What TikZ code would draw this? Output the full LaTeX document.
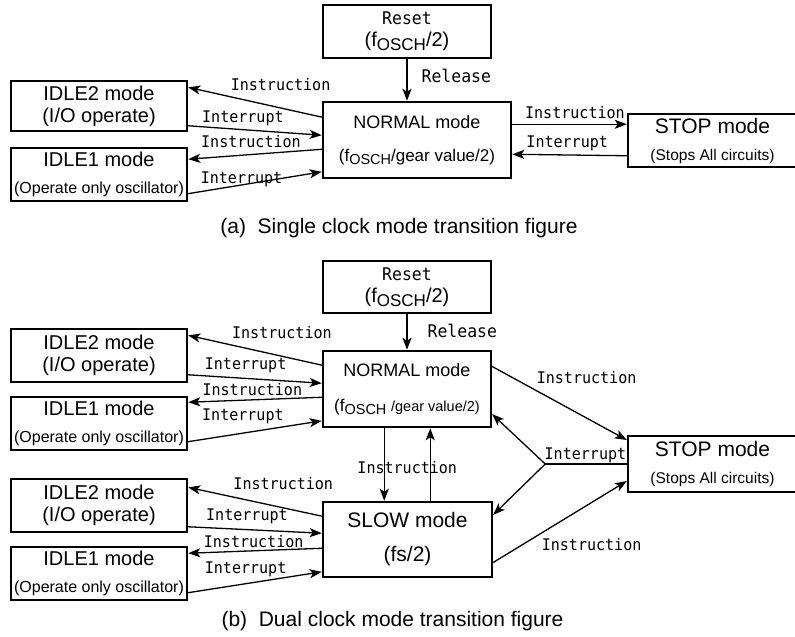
\documentclass[tikz,border=0pt]{standalone}
\usepackage{fontspec}
\setmainfont{Liberation Sans}
\newfontfamily\lblfont[FakeStretch=0.94]{DejaVu Sans Mono}
\usetikzlibrary{arrows.meta,positioning,calc}
\newcommand{\fosch}{f\raisebox{-0.35ex}{\scalebox{0.85}{OSCH}}}
\tikzset{%
modebox/.style={draw, line width=1.5pt, minimum width=176pt, minimum height=53pt, align=center, inner sep=0pt, font=\fontsize{20}{22}\selectfont},
lbl/.style={font=\lblfont\fontsize{16}{16}\selectfont, inner sep=0pt},
pt/.style={line width=1.3pt, -{Stealth[length=12pt,width=9pt,inset=3pt]}, shorten >=0.5pt}
}

\begin{document}
\begin{tikzpicture}[x=1pt, y=-1pt]
\useasboundingbox (0,0) rectangle (795,637);
% (a) single clock
\node[modebox, minimum width=168pt] (resetA) at (407,31.5) {{\lblfont\fontsize{17.5}{17.5}\selectfont Reset}\\(\fosch/2)};
\node[modebox, minimum width=188pt, minimum height=76pt, font=\fontsize{18}{33}\selectfont] (normalA) at (417,140) {NORMAL mode\\{\fontsize{17}{17}\selectfont(\fosch/gear value/2)}};
\node[modebox, minimum width=169pt, font=\fontsize{21}{27}\selectfont] (stopA) at (712.5,140.5) {STOP mode\\{\fontsize{15.5}{15.5}\selectfont(Stops All circuits)}};
\node[modebox, minimum height=50pt] (idle2A) at (99,106) {IDLE2 mode\\(I/O operate)};
\node[modebox, font=\fontsize{20}{27}\selectfont] (idle1A) at (99,174.5) {IDLE1 mode\\{\fontsize{16}{16}\selectfont(Operate only oscillator)}};

\draw[pt] (resetA.south) -- node[lbl, anchor=west, xshift=14pt, yshift=4pt, font=\lblfont\fontsize{17.5}{17.5}\selectfont] {Release} (resetA.south |- normalA.north);
\draw[pt] ([yshift=-16pt]normalA.north west) -- node[lbl, pos=0.31, yshift=23pt] {Instruction} ([yshift=-7pt]idle2A.north east);
\draw[pt] ([yshift=6pt]idle2A.south east) -- node[lbl, pos=0.41, yshift=11.5pt] {Interrupt} ([yshift=-34pt]normalA.north west);
\draw[pt] ([yshift=-48pt]normalA.north west) -- node[lbl, pos=0.53, yshift=12.8pt] {Instruction} ([yshift=-12pt]idle1A.north east);
\draw[pt] ([yshift=8pt]idle1A.south east) -- node[lbl, pos=0.40, yshift=6pt] {Interrupt} ([yshift=7pt]normalA.south west);
\draw[pt] ([yshift=-23pt]normalA.north east) -- node[lbl, pos=0.547, yshift=11.5pt] {Instruction} ([yshift=-11pt]stopA.north west);
\draw[pt] ([yshift=12pt]stopA.south west) -- node[lbl, pos=0.52, yshift=11.5pt] {Interrupt} ([yshift=-53pt]normalA.north east);

\node[font=\fontsize{21}{21}\selectfont, inner sep=0pt] (capA) at (399,228) {(a)\ \ Single clock mode transition figure};

% (b) dual clock
\node[modebox, minimum width=168pt, minimum height=52pt] (resetB) at (407,287) {{\lblfont\fontsize{17.5}{17.5}\selectfont Reset}\\(\fosch/2)};
\node[modebox, minimum width=168pt, minimum height=76pt, font=\fontsize{18}{35}\selectfont] (normalB) at (407,389) {NORMAL mode\\{\fontsize{17}{17}\selectfont(\fosch\ {\fontsize{14.5}{14.5}\selectfont/gear value/2)}}};
\node[modebox, minimum width=169pt, minimum height=75pt, font=\fontsize{21}{34}\selectfont] (slowB) at (407.5,539.5) {SLOW mode\\(fs/2)};
\node[modebox, minimum width=169pt, minimum height=56pt, font=\fontsize{21}{27}\selectfont] (stopB) at (712.5,464) {STOP mode\\{\fontsize{15.5}{15.5}\selectfont(Stops All circuits)}};
\node[modebox] (idle2B) at (99,355.5) {IDLE2 mode\\(I/O operate)};
\node[modebox, font=\fontsize{20}{27}\selectfont] (idle1B) at (99,423.5) {IDLE1 mode\\{\fontsize{16}{16}\selectfont(Operate only oscillator)}};
\node[modebox] (idle2C) at (99,505.5) {IDLE2 mode\\(I/O operate)};
\node[modebox, font=\fontsize{20}{27}\selectfont] (idle1C) at (99,573.5) {IDLE1 mode\\{\fontsize{16}{16}\selectfont(Operate only oscillator)}};

\draw[pt] (resetB.south) -- node[lbl, anchor=west, xshift=20pt, yshift=1.5pt, font=\lblfont\fontsize{17.5}{17.5}\selectfont] {Release} (resetB.south |- normalB.north);
% NORMAL <-> IDLE
\draw[pt] ([yshift=-15pt]normalB.north west) -- node[lbl, pos=0.30, yshift=23.5pt] {Instruction} ([yshift=-7pt]idle2B.north east);
\draw[pt] ([yshift=8pt]idle2B.south east) -- node[lbl, pos=0.43, yshift=12.8pt] {Interrupt} ([yshift=-33pt]normalB.north west);
\draw[pt] ([yshift=-47pt]normalB.north west) -- node[lbl, pos=0.52, yshift=10.6pt] {Instruction} ([yshift=-6pt]idle1B.north east);
\draw[pt] ([yshift=9pt]idle1B.south east) -- node[lbl, pos=0.41, yshift=17pt] {Interrupt} ([yshift=7pt]normalB.south west);
% SLOW <-> IDLE
\draw[pt] ([yshift=-15pt]slowB.north west) -- node[lbl, pos=0.29, yshift=24.6pt] {Instruction} ([yshift=-9pt]idle2C.north east);
\draw[pt] ([yshift=6pt]idle2C.south east) -- node[lbl, pos=0.44, yshift=13pt] {Interrupt} ([yshift=-32pt]slowB.north west);
\draw[pt] ([yshift=-47pt]slowB.north west) -- node[lbl, pos=0.51, yshift=9.6pt] {Instruction} ([yshift=-7pt]idle1C.north east);
\draw[pt] ([yshift=8pt]idle1C.south east) -- node[lbl, pos=0.43, yshift=14.5pt] {Interrupt} ([yshift=6pt]slowB.south west);
% NORMAL <-> SLOW
\draw[pt] ([xshift=62pt]normalB.south west) -- node[lbl, pos=0.54, xshift=23pt] {Instruction} ([xshift=62pt]normalB.south west |- slowB.north);
\draw[pt] ([xshift=108pt]slowB.north west) -- ([xshift=108pt]slowB.north west |- normalB.south);
% STOP
\draw[pt] ([yshift=-16pt]normalB.north east) -- node[lbl, pos=0.70, yshift=41pt] {Instruction} ([yshift=-5pt]stopB.north west);
\coordinate[left=82pt of stopB.west] (brk);
\draw[line width=1.3pt] (stopB.west) -- node[lbl, pos=0.51, yshift=9pt] {Interrupt} (brk);
\draw[pt] (brk) -- ([yshift=14pt]normalB.south east);
\draw[pt] (brk) -- ([yshift=-14pt]slowB.north east);
\draw[pt] ([yshift=15pt]slowB.south east) -- node[lbl, pos=0.735, yshift=-42pt] {Instruction} ([yshift=12pt]stopB.south west);

\node[font=\fontsize{21}{21}\selectfont, inner sep=0pt] (capB) at (392.5,621) {(b)\ \ Dual clock mode transition figure};
\end{tikzpicture}
\end{document}
